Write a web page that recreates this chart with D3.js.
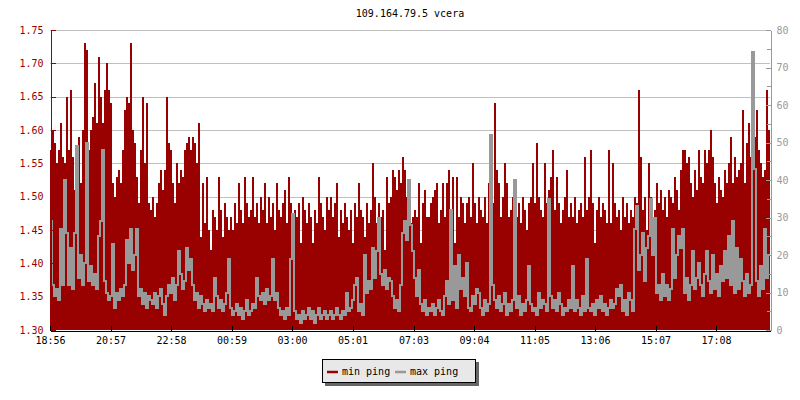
<!DOCTYPE html>
<html><head><meta charset="utf-8">
<script src="https://cdn.jsdelivr.net/npm/d3@7"></script>
<style>
body{margin:0;background:#fff}
svg{display:block}
text{font-family:"DejaVu Sans Mono",monospace;font-size:10px}
</style>
</head><body><svg id="chart" width="800" height="400"></svg>
<script>
const chartTitle = "109.164.79.5 vcera";
const seriesNames = ["min ping", "max ping"];
const seriesColors = ["#990000", "#999999"];
const sampleStepMinutes = 4;
const spanMinutes = 1440;

// min ping (left axis), one value per 4-minute sample starting 18:56
const minPing = [
1.57,1.60,1.58,1.55,1.57,1.61,1.56,1.55,1.65,1.57,
1.66,1.56,1.51,1.57,1.59,1.52,1.60,1.73,1.72,1.57,
1.60,1.62,1.67,1.61,1.71,1.65,1.61,1.66,1.70,1.66,
1.64,1.52,1.50,1.53,1.54,1.52,1.57,1.63,1.65,1.64,
1.73,1.60,1.58,1.53,1.49,1.57,1.65,1.55,1.64,1.49,
1.48,1.50,1.47,1.49,1.52,1.54,1.51,1.54,1.65,1.58,
1.57,1.52,1.49,1.55,1.52,1.54,1.53,1.57,1.58,1.59,
1.57,1.59,1.58,1.55,1.61,1.44,1.52,1.46,1.53,1.45,
1.42,1.48,1.47,1.45,1.53,1.48,1.44,1.49,1.47,1.45,
1.47,1.45,1.49,1.46,1.52,1.48,1.46,1.53,1.49,1.47,
1.48,1.53,1.47,1.49,1.46,1.50,1.48,1.52,1.46,1.50,
1.47,1.49,1.45,1.52,1.48,1.47,1.49,1.51,1.46,1.53,
1.49,1.44,1.48,1.47,1.49,1.43,1.50,1.48,1.46,1.49,
1.47,1.43,1.48,1.46,1.53,1.49,1.47,1.45,1.50,1.48,
1.50,1.47,1.49,1.52,1.44,1.48,1.46,1.49,1.47,1.45,
1.48,1.43,1.49,1.47,1.52,1.48,1.47,1.44,1.49,1.46,
1.48,1.55,1.50,1.46,1.49,1.47,1.48,1.42,1.53,1.49,
1.50,1.54,1.53,1.51,1.54,1.52,1.56,1.54,1.50,1.48,
1.46,1.47,1.48,1.47,1.52,1.43,1.49,1.51,1.47,1.47,
1.49,1.50,1.51,1.52,1.46,1.48,1.52,1.47,1.52,1.54,
1.48,1.53,1.43,1.53,1.47,1.50,1.49,1.46,1.49,1.50,
1.47,1.55,1.49,1.46,1.50,1.48,1.47,1.50,1.46,1.52,
1.48,1.49,1.64,1.54,1.52,1.47,1.50,1.55,1.52,1.47,
1.48,1.50,1.44,1.47,1.49,1.46,1.50,1.48,1.45,1.49,
1.50,1.55,1.49,1.58,1.50,1.48,1.47,1.55,1.49,1.51,
1.53,1.57,1.48,1.53,1.49,1.46,1.48,1.50,1.54,1.47,
1.49,1.47,1.50,1.46,1.48,1.49,1.47,1.56,1.48,1.50,
1.57,1.49,1.43,1.48,1.50,1.47,1.49,1.48,1.46,1.57,
1.46,1.55,1.49,1.47,1.48,1.45,1.50,1.47,1.49,1.46,
1.48,1.47,1.50,1.49,1.66,1.56,1.48,1.50,1.45,1.55,
1.50,1.42,1.48,1.52,1.49,1.51,1.48,1.50,1.47,1.51,
1.50,1.49,1.53,1.51,1.48,1.54,1.57,1.57,1.55,1.56,
1.52,1.50,1.54,1.51,1.57,1.53,1.52,1.57,1.55,1.57,
1.60,1.56,1.52,1.49,1.53,1.51,1.50,1.54,1.52,1.55,
1.59,1.52,1.56,1.53,1.54,1.55,1.63,1.52,1.58,1.61,
1.56,1.55,1.59,1.63,1.57,1.55,1.53,1.54,1.66,1.60
];

// max ping (right axis)
const maxPing = [
29,12,9,11,8,27,12,40,26,12,
22,11,26,49,14,20,12,18,50,13,
17,12,15,11,25,29,48,13,10,8,
9,23,6,10,8,11,9,12,24,18,
27,16,20,27,9,11,7,10,6,9,
8,7,10,6,9,11,7,4,9,12,
10,14,8,12,21,15,11,13,22,16,
19,12,8,10,6,9,7,5,8,6,
7,5,14,9,6,8,5,7,10,19,
6,4,5,7,4,6,3,5,8,4,
5,7,6,14,9,8,10,7,11,8,
9,19,8,10,6,4,5,3,6,4,
19,31,5,3,4,2,5,3,4,6,
3,5,2,4,6,3,4,5,3,4,
5,3,4,6,4,3,5,4,10,5,
6,8,12,14,5,7,4,20,10,13,
11,22,14,21,30,15,12,16,11,14,
13,9,6,8,5,12,26,29,24,40,
28,21,14,9,16,7,5,8,4,6,
5,7,4,6,8,5,4,9,13,7,
32,8,17,6,20,11,14,9,18,6,
5,9,7,11,10,6,4,8,5,7,
52,12,8,6,9,5,7,10,4,7,
5,8,40,6,9,4,7,5,8,17,
7,5,6,4,10,6,8,7,5,35,
9,6,8,5,10,7,4,6,5,8,
6,17,5,8,6,4,9,5,19,6,
5,7,4,8,6,9,5,7,4,6,
8,6,7,11,9,12,5,8,4,10,
8,5,27,33,16,20,26,13,22,25,
35,20,30,10,12,8,15,9,12,8,
11,27,14,20,25,22,27,10,14,8,
12,21,11,14,18,12,9,15,21,13,
10,20,11,15,9,17,13,21,14,25,
12,29,10,22,11,19,13,9,15,10,
12,74,43,13,9,17,11,27,14,20
];

const xTickMinutes = [0,121,242,363,484,605,727,848,969,1090,1211,1332];
const xTickLabels = ["18:56","20:57","22:58","00:59","03:00","05:01","07:03","09:04","11:05","13:06","15:07","17:08"];
const leftTicks = [1.30,1.35,1.40,1.45,1.50,1.55,1.60,1.65,1.70,1.75];
const rightTicks = [0,10,20,30,40,50,60,70,80];
const rightMinorTicks = [5,15,25,35,45,55,65,75];

const svg = d3.select("#chart");
const L = 50, R = 770, T = 30, B = 330;

const x = d3.scaleLinear().domain([0, spanMinutes]).range([L, R]);
const yL = d3.scaleLinear().domain([1.30, 1.75]).range([B, T]);
const yR = d3.scaleLinear().domain([0, 80]).range([B, T]);

// title
svg.append("text").attr("x", (L + R) / 2).attr("y", 17)
  .attr("text-anchor", "middle").attr("fill", "#000").text(chartTitle);

// grid
svg.append("g").selectAll("line").data(leftTicks.slice(1)).join("line")
  .attr("x1", L).attr("x2", R)
  .attr("y1", d => Math.round(yL(d)) + 0.5).attr("y2", d => Math.round(yL(d)) + 0.5)
  .attr("stroke", "#c0c0c0").attr("stroke-width", 1);

// data
const minPts = minPing.map((v, i) => ({t: i * sampleStepMinutes, v}));
minPts.push({t: spanMinutes, v: minPing[minPing.length - 1]});
const maxPts = maxPing.map((v, i) => ({t: i * sampleStepMinutes, v}));
maxPts.push({t: spanMinutes, v: maxPing[maxPing.length - 1]});

const area = d3.area().x(d => x(d.t)).y0(B).y1(d => yL(d.v)).curve(d3.curveStepAfter);
svg.append("path").datum(minPts).attr("d", area)
  .attr("fill", seriesColors[0]).attr("shape-rendering", "crispEdges");

svg.append("clipPath").attr("id", "plotclip").append("rect")
  .attr("x", L + 1).attr("y", T).attr("width", R - L - 1).attr("height", B - T);
const line = d3.line().x(d => Math.round(x(d.t))).y(d => Math.round(yR(d.v))).curve(d3.curveStepAfter);
svg.append("path").datum(maxPts).attr("d", line).attr("clip-path", "url(#plotclip)")
  .attr("fill", "none").attr("stroke", seriesColors[1]).attr("stroke-width", 2)
  .attr("shape-rendering", "crispEdges");

// left axis
const axL = svg.append("g").attr("transform", `translate(${L + 0.5},0)`)
  .call(d3.axisLeft(yL).tickValues(leftTicks).tickFormat(d3.format(".2f"))
    .tickSizeInner(-5).tickSizeOuter(0).tickPadding(7));
axL.selectAll("path,line").attr("stroke", "#990000").attr("shape-rendering", "crispEdges");
axL.selectAll("text").attr("fill", "#990000").style("font-size", "10px").style("font-family", '"DejaVu Sans Mono",monospace');

// right axis
const axR = svg.append("g").attr("transform", `translate(${R + 0.5},0)`)
  .call(d3.axisRight(yR).tickValues(rightTicks).tickFormat(d3.format("d"))
    .tickSizeInner(-5).tickSizeOuter(0).tickPadding(6));
axR.selectAll("path,line").attr("stroke", "#999999").attr("shape-rendering", "crispEdges");
axR.selectAll("text").attr("fill", "#999999").style("font-size", "10px").style("font-family", '"DejaVu Sans Mono",monospace');
axR.append("g").selectAll("line").data(rightMinorTicks).join("line")
  .attr("x1", -4).attr("x2", 0)
  .attr("y1", d => Math.round(yR(d)) + 0.5).attr("y2", d => Math.round(yR(d)) + 0.5)
  .attr("stroke", "#999999").attr("shape-rendering", "crispEdges");

// bottom axis
const axB = svg.append("g").attr("transform", `translate(0,${B + 0.5})`)
  .call(d3.axisBottom(x).tickValues(xTickMinutes).tickFormat((d, i) => xTickLabels[i])
    .tickSizeInner(-5).tickSizeOuter(0).tickPadding(6));
axB.selectAll("path,line").attr("stroke", "#000").attr("shape-rendering", "crispEdges");
axB.selectAll("text").attr("fill", "#000").style("font-size", "10px").style("font-family", '"DejaVu Sans Mono",monospace');

// legend
const lg = svg.append("g");
lg.append("rect").attr("x", 325).attr("y", 362).attr("width", 154).attr("height", 24).attr("fill", "#666666");
lg.append("rect").attr("x", 322.5).attr("y", 359.5).attr("width", 153).attr("height", 23)
  .attr("fill", "#e8e8e8").attr("stroke", "#000").attr("stroke-width", 1);
const legendX = [327, 395];
seriesNames.forEach((name, i) => {
  lg.append("line").attr("x1", legendX[i]).attr("x2", legendX[i] + 11)
    .attr("y1", 372).attr("y2", 372).attr("stroke", seriesColors[i]).attr("stroke-width", 2.5);
  lg.append("text").attr("x", legendX[i] + 15).attr("y", 375).attr("fill", "#000").text(name);
});
</script>
</body></html>
